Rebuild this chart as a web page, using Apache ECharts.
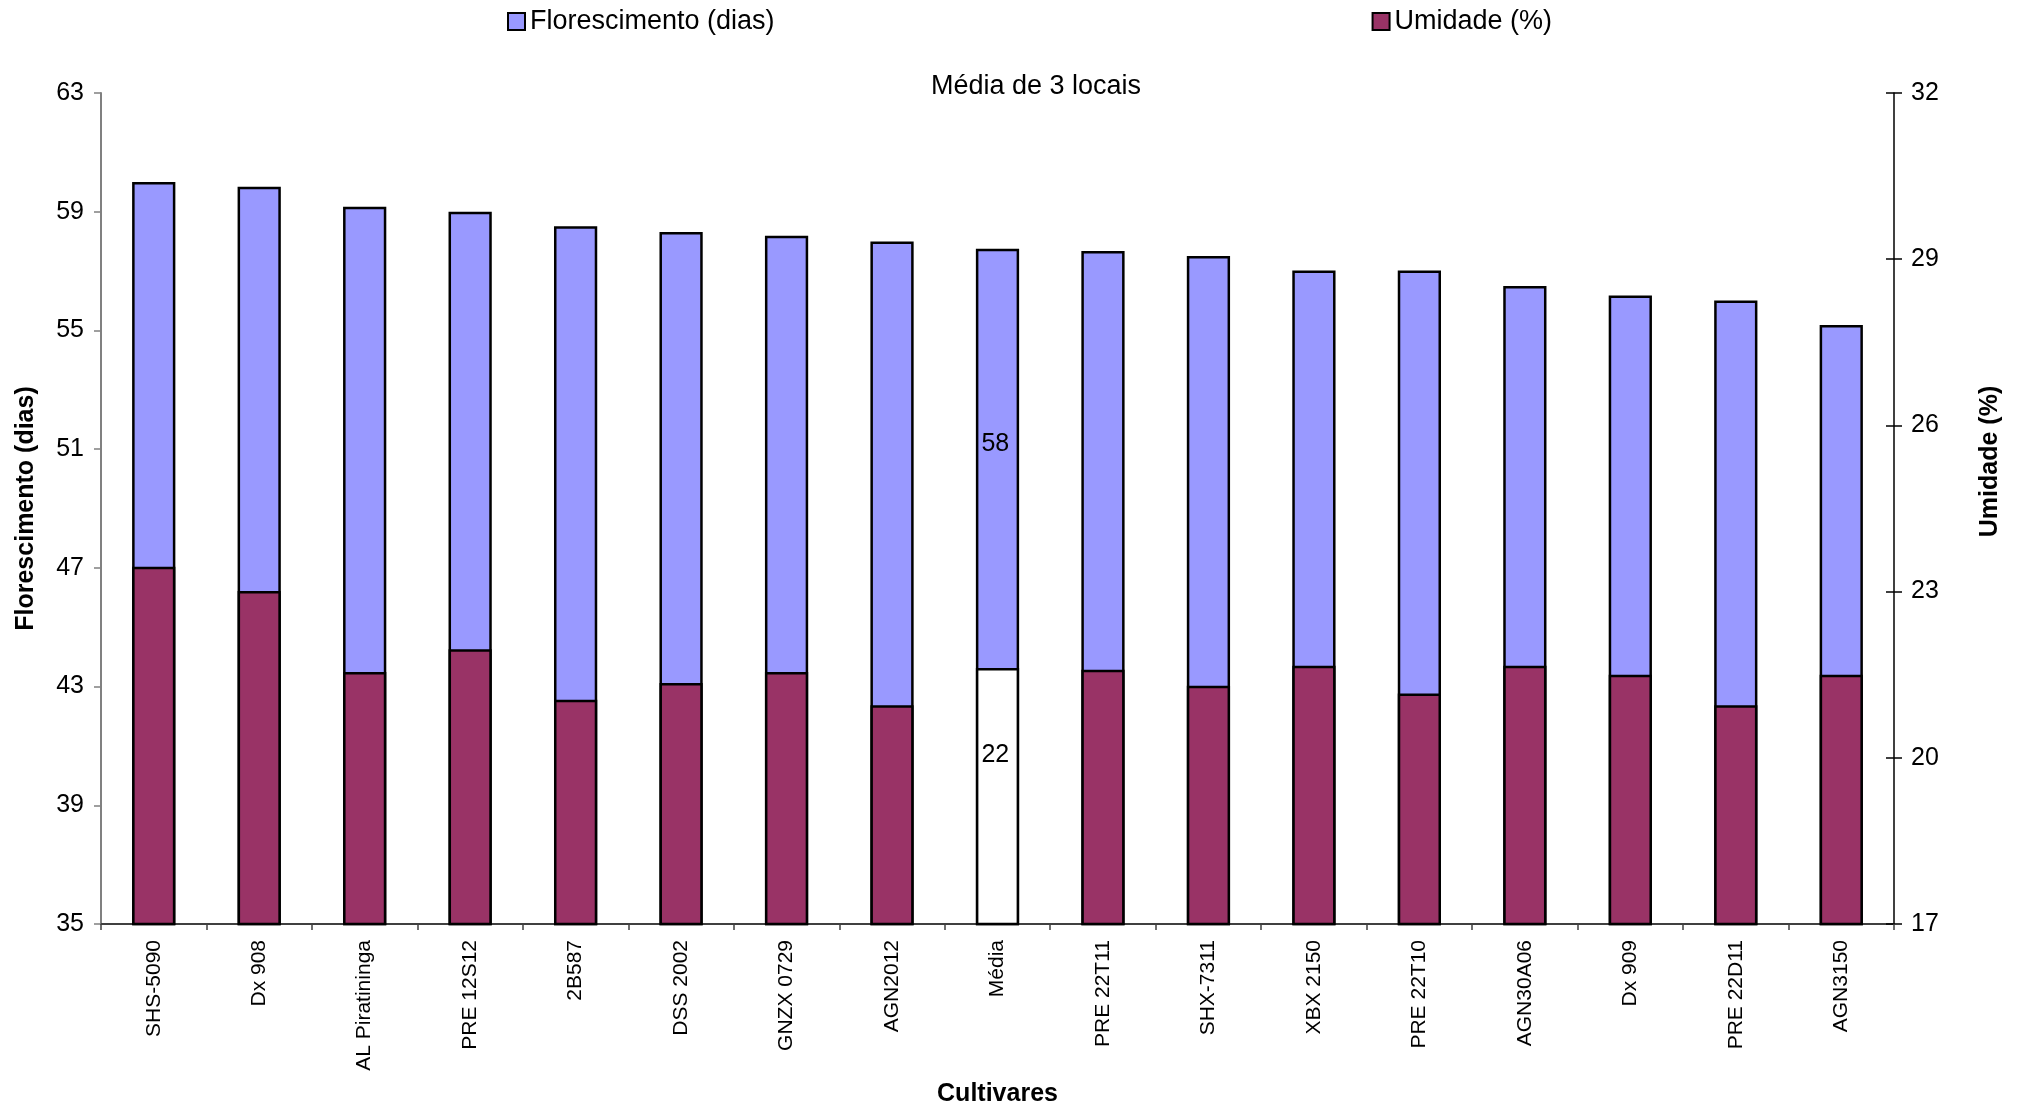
<!DOCTYPE html>
<html>
<head>
<meta charset="utf-8">
<script src="https://cdn.jsdelivr.net/npm/echarts@6/dist/echarts.min.js"></script>
<style>
  html, body { margin: 0; padding: 0; background: #fff; }
  #chart { width: 2029px; height: 1108px; }
</style>
</head>
<body>
<div id="chart"></div>
<script>
// Cultivars, ordered by flowering time (the mean sits in its ranked place)
const cultivares = ['SHS-5090', 'Dx 908', 'AL Piratininga', 'PRE 12S12', '2B587', 'DSS 2002',
  'GNZX 0729', 'AGN2012', 'Média', 'PRE 22T11', 'SHX-7311', 'XBX 2150', 'PRE 22T10',
  'AGN30A06', 'Dx 909', 'PRE 22D11', 'AGN3150'];

// Days to flowering (left axis)
const florescimento = [60.0, 59.84, 59.17, 59.0, 58.51, 58.32, 58.19, 58.0, 57.75, 57.68,
  57.51, 57.02, 57.02, 56.5, 56.18, 56.01, 55.18];

// Grain moisture at harvest, % (right axis)
const umidade = [23.45, 23.01, 21.55, 21.96, 21.05, 21.35, 21.55, 20.95, 21.62, 21.59,
  21.3, 21.66, 21.16, 21.66, 21.5, 20.95, 21.5];

// Axis ranges and steps
const floresMin = 35, floresMax = 63, floresStep = 4;
const umidMin = 17, umidMax = 32, umidStep = 3;

const mediaLabel = 'Média';
const FONT = '"Liberation Sans", Arial, sans-serif';

const floresData = florescimento.map((v, i) => {
  if (cultivares[i] !== mediaLabel) return v;
  return {
    value: v,
    label: {
      show: true, position: ['45%', 195], align: 'center', verticalAlign: 'middle',
      color: '#000', fontSize: 25, fontFamily: FONT,
      formatter: p => Math.round(p.value).toString()
    }
  };
});

const umidData = umidade.map((v, i) => {
  if (cultivares[i] !== mediaLabel) return v;
  return {
    value: v,
    itemStyle: { color: '#FFFFFF' },
    label: {
      show: true, position: ['45%', 87], align: 'center', verticalAlign: 'middle',
      color: '#000', fontSize: 25, fontFamily: FONT,
      formatter: p => Math.round(p.value).toString()
    }
  };
});

const chart = echarts.init(document.getElementById('chart'), null, { renderer: 'canvas' });

chart.setOption({
  animation: false,
  backgroundColor: '#ffffff',
  textStyle: { fontFamily: FONT, color: '#000' },
  title: {
    text: 'Média de 3 locais',
    left: 1031, top: 68, textAlign: 'center',
    textStyle: { fontSize: 27, fontWeight: 'normal', color: '#000', fontFamily: FONT }
  },
  legend: {
    left: 502, top: 3,
    itemWidth: 17, itemHeight: 17, itemGap: 597,
    icon: 'rect',
    textStyle: { fontSize: 27, color: '#000', fontFamily: FONT },
    data: [
      { name: 'Florescimento (dias)', itemStyle: { color: '#9999FF', borderColor: '#000', borderWidth: 2 } },
      { name: 'Umidade (%)', itemStyle: { color: '#993366', borderColor: '#000', borderWidth: 2 } }
    ]
  },
  grid: { left: 101, right: 135, top: 93, bottom: 184, containLabel: false, outerBoundsMode: 'none' },
  xAxis: {
    type: 'category',
    data: cultivares,
    boundaryGap: true,
    name: 'Cultivares',
    nameLocation: 'middle',
    nameGap: 158,
    nameTextStyle: { fontSize: 25, fontWeight: 'bold', color: '#000', fontFamily: FONT },
    axisLine: { lineStyle: { color: '#404040', width: 2 } },
    axisTick: { show: true, alignWithLabel: false, length: 6, lineStyle: { color: '#404040', width: 1.5 } },
    axisLabel: { rotate: 90, fontSize: 21, color: '#000', margin: 16, interval: 0, fontFamily: FONT }
  },
  yAxis: [
    {
      type: 'value', position: 'left',
      min: floresMin, max: floresMax, interval: floresStep,
      name: 'Florescimento (dias)',
      nameLocation: 'middle', nameRotate: 90, nameGap: 62,
      nameTextStyle: { fontSize: 25, fontWeight: 'bold', color: '#000', fontFamily: FONT },
      axisLine: { show: true, lineStyle: { color: '#808080', width: 2 } },
      axisTick: { show: true, length: 7, lineStyle: { color: '#808080', width: 1.5 } },
      axisLabel: { fontSize: 25, color: '#000', margin: 17, fontFamily: FONT },
      splitLine: { show: false }
    },
    {
      type: 'value', position: 'right',
      min: umidMin, max: umidMax, interval: umidStep,
      name: 'Umidade (%)',
      nameLocation: 'middle', nameRotate: 90, nameGap: 84,
      nameTextStyle: { fontSize: 25, fontWeight: 'bold', color: '#000', fontFamily: FONT, padding: [0, 0, 0, 94] },
      axisLine: { show: true, lineStyle: { color: '#000', width: 1.5 } },
      axisTick: { show: true, length: 8, lineStyle: { color: '#000', width: 1.5 } },
      axisLabel: { fontSize: 25, color: '#000', margin: 17, fontFamily: FONT },
      splitLine: { show: false }
    },
    {
      // inner half of the right axis' crossing ticks
      type: 'value', position: 'right',
      min: umidMin, max: umidMax, interval: umidStep,
      axisLine: { show: false },
      axisTick: { show: true, inside: true, length: 8, lineStyle: { color: '#000', width: 1.5 } },
      axisLabel: { show: false },
      splitLine: { show: false }
    }
  ],
  series: [
    {
      name: 'Florescimento (dias)',
      type: 'bar',
      yAxisIndex: 0,
      data: floresData,
      barWidth: '41%',
      barGap: '-100%',
      itemStyle: { color: '#9999FF', borderColor: '#000', borderWidth: 2.5 },
      z: 2
    },
    {
      name: 'Umidade (%)',
      type: 'bar',
      yAxisIndex: 1,
      data: umidData,
      barWidth: '41%',
      barGap: '-100%',
      itemStyle: { color: '#993366', borderColor: '#000', borderWidth: 2.5 },
      z: 3
    }
  ]
});
</script>
</body>
</html>
